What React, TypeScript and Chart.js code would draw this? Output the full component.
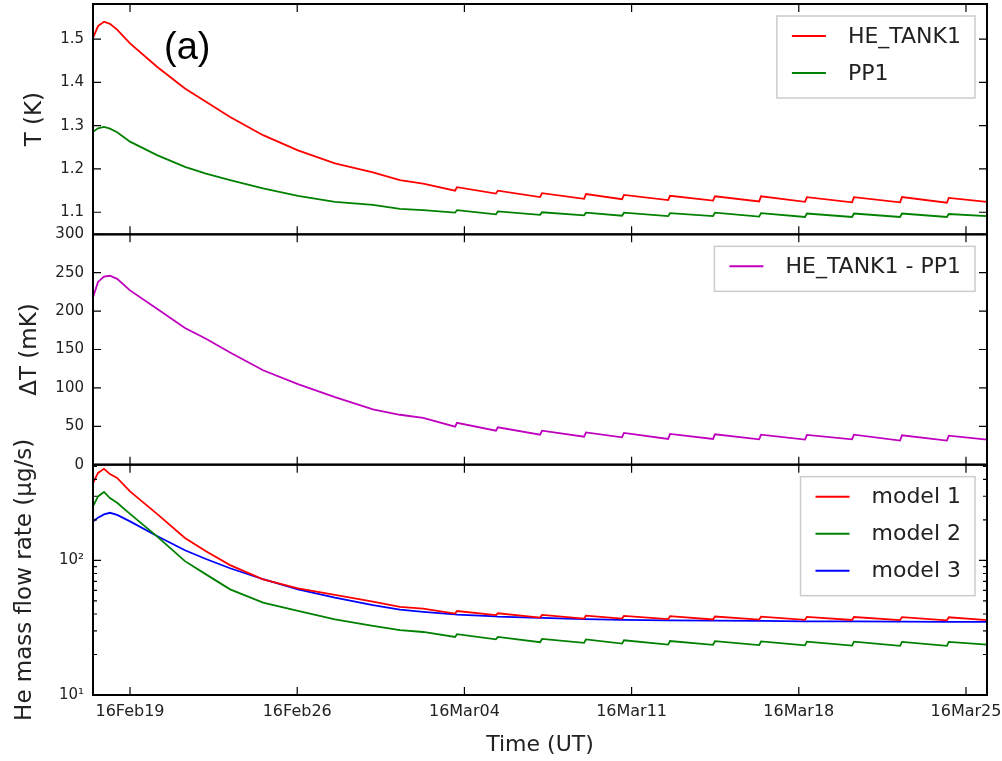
import React, { useEffect, useRef } from 'react';
import { Chart, registerables } from 'chart.js';

Chart.register(...registerables);

// x positions: days since 16Feb19 (2016)
const DAYS = [
  -1.55, -1.34, -1.09, -0.84, -0.54, 0, 1.13, 2.3, 3.18, 4.19, 5.57, 7.03, 8.58, 10.17, 11.3, 12.27,
  13.61, 13.69, 15.32, 15.4, 17.17, 17.25, 19.01, 19.09, 20.6, 20.68, 22.53, 22.61, 24.41, 24.49,
  26.34, 26.42, 28.26, 28.34, 30.23, 30.31, 32.24, 32.32, 34.2, 34.28, 35.88,
];

const HE_TANK1 = [
  1.503, 1.53, 1.54, 1.535, 1.522, 1.49, 1.436, 1.386, 1.355, 1.32, 1.278, 1.243, 1.213, 1.192, 1.174, 1.166,
  1.15, 1.158, 1.143, 1.15, 1.135, 1.144, 1.131, 1.142, 1.13, 1.14, 1.128, 1.138, 1.127, 1.137,
  1.125, 1.137, 1.124, 1.135, 1.123, 1.135, 1.123, 1.135, 1.122, 1.133, 1.124,
];

const PP1 = [
  1.286, 1.294, 1.297, 1.293, 1.285, 1.263, 1.232, 1.205, 1.189, 1.174, 1.155, 1.138, 1.124, 1.117, 1.108, 1.105,
  1.099, 1.105, 1.095, 1.102, 1.094, 1.1, 1.093, 1.099, 1.092, 1.099, 1.091, 1.098, 1.091, 1.099,
  1.09, 1.098, 1.089, 1.097, 1.089, 1.097, 1.089, 1.097, 1.089, 1.096, 1.091,
];

const DELTA_T = [
  218, 238, 245, 246, 242, 227, 203, 178, 164, 146, 123, 105, 88, 72, 65, 61,
  49.5, 54.5, 44.3, 48.7, 39, 44.3, 36.5, 42, 35.6, 41.3, 33.5, 40, 33.5, 39.5,
  33, 39, 32.6, 38.7, 33, 39, 31.3, 38.3, 31.3, 37.8, 32.5,
];

const MODEL1 = [
  376, 447, 480, 438, 410, 326, 222, 147, 117, 92.3, 72.3, 62, 55.4, 49.4, 45.1, 43.8,
  40.3, 42.1, 39.2, 40.5, 37.6, 39.4, 37.0, 38.9, 37.0, 38.7, 36.6, 38.5, 36.4, 38.3,
  36.3, 38.2, 36.2, 38.1, 36.1, 38.0, 36.0, 37.9, 35.9, 37.8, 36.0,
];

const MODEL2 = [
  252, 299, 323, 291, 268, 222, 151, 98.8, 78.8, 61, 48.6, 42.1, 36.5, 32.6, 30.3, 29.4,
  27.0, 28.3, 25.9, 27.0, 24.7, 26.1, 24.4, 25.9, 24.1, 25.5, 23.7, 25.2, 23.6, 25.1,
  23.5, 25.0, 23.4, 24.9, 23.3, 24.9, 23.2, 24.8, 23.2, 24.8, 23.7,
];

const MODEL3 = [
  195, 208, 220, 226, 218, 195, 152, 119, 102.5, 87.5, 72.5, 61, 52.9, 46.6, 43.1, 41.5,
  39.7, 39.6, 38.4, 38.3, 37.4, 37.4, 36.6, 36.6, 36.2, 36.2, 35.9, 35.9, 35.7, 35.7,
  35.5, 35.5, 35.3, 35.3, 35.2, 35.2, 35.1, 35.1, 35.0, 35.0, 34.9,
];

const X_MIN = -1.55;
const X_MAX = 35.88;
const TICK_DAYS = [0, 7, 14, 21, 28, 35];
const TICK_LABELS = ['16Feb19', '16Feb26', '16Mar04', '16Mar11', '16Mar18', '16Mar25'];

const Y1_MIN = 1.049;
const Y1_MAX = 1.581;
const Y1_TICKS = [1.1, 1.2, 1.3, 1.4, 1.5];

const Y2_MIN = 0;
const Y2_MAX = 300;
const Y2_TICKS = [0, 50, 100, 150, 200, 250, 300];

const Y3_MIN = 10;
const Y3_MAX = 515;
const Y3_MAJOR = [10, 100];
const Y3_MAJOR_LABELS = ['10\u00b9', '10\u00b2'];
const Y3_MINOR = [20, 30, 40, 50, 60, 70, 80, 90, 200, 300, 400, 500];

const FONT = 'DejaVu Sans';
const TXT = '#222222';

const isPow10 = (v: number) => Math.abs(Math.log10(v) - Math.round(Math.log10(v))) < 1e-9;

const zeroPad = (s: any) => {
  s.paddingTop = 0;
  s.paddingBottom = 0;
  s.paddingLeft = 0;
  s.paddingRight = 0;
};

const panelPlugin = {
  id: 'panelDecor',
  afterDatasetsDraw(chart: any) {
    const ctx: CanvasRenderingContext2D = chart.ctx;
    const xs = chart.scales.x;
    const ids = ['yA', 'yB', 'yC'];
    ctx.save();
    for (const id of ids) {
      const s = chart.scales[id];
      const top = s.top;
      const bottom = s.bottom;
      const left = xs.left;
      const right = xs.right;
      ctx.strokeStyle = '#000';
      ctx.lineWidth = 1.2;
      ctx.beginPath();
      for (const t of xs.ticks) {
        const px = xs.getPixelForValue(t.value);
        ctx.moveTo(px, top);
        ctx.lineTo(px, top + 8);
        ctx.moveTo(px, bottom);
        ctx.lineTo(px, bottom - 8);
      }
      for (const t of s.ticks) {
        const py = s.getPixelForValue(t.value);
        const len = s.type === 'logarithmic' && !isPow10(t.value) ? 4 : 8;
        ctx.moveTo(left, py);
        ctx.lineTo(left + len, py);
        ctx.moveTo(right, py);
        ctx.lineTo(right - len, py);
      }
      ctx.stroke();

      // frame
      ctx.lineWidth = 2;
      ctx.strokeRect(left, top, right - left, bottom - top);

      // legend
      const ds = chart.data.datasets.filter((d: any) => d.yAxisID === id);
      ctx.font = `22px "${FONT}"`;
      let maxW = 0;
      for (const d of ds) maxW = Math.max(maxW, ctx.measureText(d.label).width);
      const rowH = 37;
      const boxW = 15 + 34 + 22 + maxW + 14;
      const boxH = ds.length * rowH + 8;
      const bx = right - 12 - boxW;
      const by = top + 12;
      ctx.fillStyle = '#ffffff';
      ctx.fillRect(bx, by, boxW, boxH);
      ctx.strokeStyle = '#cccccc';
      ctx.lineWidth = 1.5;
      ctx.strokeRect(bx, by, boxW, boxH);
      ds.forEach((d: any, i: number) => {
        const cy = by + 20 + i * rowH;
        ctx.strokeStyle = d.borderColor;
        ctx.lineWidth = 2;
        ctx.beginPath();
        ctx.moveTo(bx + 15, cy);
        ctx.lineTo(bx + 49, cy);
        ctx.stroke();
        ctx.fillStyle = TXT;
        ctx.textBaseline = 'middle';
        ctx.textAlign = 'left';
        ctx.fillText(d.label, bx + 71, cy + 1);
      });
    }
    // panel label
    const a = chart.scales.yA;
    ctx.fillStyle = '#000';
    ctx.font = '38px "Liberation Sans"';
    ctx.textAlign = 'left';
    ctx.textBaseline = 'alphabetic';
    ctx.fillText('(a)', xs.left + 71, a.top + 55);
    ctx.restore();
  },
};

export default function App() {
  const ref = useRef<HTMLCanvasElement>(null);

  useEffect(() => {
    const canvas = ref.current;
    if (!canvas) return;
    const pts = (ys: number[]) => DAYS.map((d, i) => ({ x: d, y: ys[i] }));
    const line = (label: string, ys: number[], color: string, axis: string) => ({
      label,
      data: pts(ys),
      borderColor: color,
      backgroundColor: color,
      borderWidth: 1.8,
      pointRadius: 0,
      tension: 0,
      fill: false,
      yAxisID: axis,
      xAxisID: 'x',
    });
    const yTickFont = { family: FONT, size: 15 };
    const xTickFont = { family: FONT, size: 16 };
    const xTitleFont = { family: FONT, size: 22 };
    const yTitleFont = { family: FONT, size: 23 };
    const yBase = {
      position: 'left',
      stack: 'panels',
      stackWeight: 1,
      offset: false,
      grid: { display: false, drawTicks: false },
      border: { display: false },
      afterFit: (s: any) => {
        s.width = 93;
        zeroPad(s);
      },
    };

    const chart = new Chart(canvas, {
      type: 'line',
      data: {
        datasets: [
          line('HE_TANK1', HE_TANK1, '#ff0000', 'yA'),
          line('PP1', PP1, '#008000', 'yA'),
          line('HE_TANK1 - PP1', DELTA_T, '#bf00bf', 'yB'),
          line('model 1', MODEL1, '#ff0000', 'yC'),
          line('model 2', MODEL2, '#008000', 'yC'),
          line('model 3', MODEL3, '#0000ff', 'yC'),
        ] as any,
      },
      options: {
        animation: false,
        responsive: false,
        events: [],
        layout: { padding: { left: 0, right: 15, top: 4, bottom: 0 } },
        plugins: { legend: { display: false }, tooltip: { enabled: false } },
        scales: {
          x: {
            type: 'linear',
            position: 'bottom',
            min: X_MIN,
            max: X_MAX,
            offset: false,
            grid: { display: false, drawTicks: false },
            border: { display: false },
            afterBuildTicks: (s: any) => {
              s.ticks = TICK_DAYS.map((v) => ({ value: v }));
            },
            afterFit: (s: any) => {
              s.height = 66;
              zeroPad(s);
            },
            ticks: {
              autoSkip: false,
              maxRotation: 0,
              padding: 7,
              color: TXT,
              font: xTickFont,
              callback: (v: any) => TICK_LABELS[TICK_DAYS.indexOf(Number(v))] ?? '',
            },
            title: {
              display: true,
              text: 'Time (UT)',
              color: TXT,
              font: xTitleFont,
              padding: { top: 0, bottom: 3 },
            },
          },
          yC: {
            ...yBase,
            type: 'logarithmic',
            min: Y3_MIN,
            max: Y3_MAX,
            afterBuildTicks: (s: any) => {
              s.ticks = [...Y3_MAJOR, ...Y3_MINOR].sort((p, q) => p - q).map((v) => ({ value: v }));
            },
            ticks: {
              autoSkip: false,
              padding: 9,
              color: TXT,
              font: yTickFont,
              callback: (v: any) => {
                const i = Y3_MAJOR.indexOf(Number(v));
                return i >= 0 ? Y3_MAJOR_LABELS[i] : '';
              },
            },
            title: {
              display: true,
              text: 'He mass flow rate (\u03bcg/s)',
              color: TXT,
              font: yTitleFont,
              padding: { top: 11, bottom: 0 },
            },
          },
          yB: {
            ...yBase,
            type: 'linear',
            min: Y2_MIN,
            max: Y2_MAX,
            afterBuildTicks: (s: any) => {
              s.ticks = Y2_TICKS.map((v) => ({ value: v }));
            },
            ticks: {
              autoSkip: false,
              padding: 9,
              color: TXT,
              font: yTickFont,
              callback: (v: any) => String(v),
            },
            title: {
              display: true,
              text: '\u0394T (mK)',
              color: TXT,
              font: yTitleFont,
              padding: { top: 16, bottom: 0 },
            },
          },
          yA: {
            ...yBase,
            type: 'linear',
            min: Y1_MIN,
            max: Y1_MAX,
            afterBuildTicks: (s: any) => {
              s.ticks = Y1_TICKS.map((v) => ({ value: v }));
            },
            ticks: {
              autoSkip: false,
              padding: 9,
              color: TXT,
              font: yTickFont,
              callback: (v: any) => Number(v).toFixed(1),
            },
            title: {
              display: true,
              text: 'T (K)',
              color: TXT,
              font: yTitleFont,
              padding: { top: 21, bottom: 0 },
            },
          },
        } as any,
      },
      plugins: [panelPlugin],
    });
    return () => chart.destroy();
  }, []);

  return (
    <div style={{ position: 'absolute', left: 0, top: 0, width: 1002, height: 761, background: '#ffffff' }}>
      <canvas ref={ref} width={1002} height={761} style={{ display: 'block' }} />
    </div>
  );
}
